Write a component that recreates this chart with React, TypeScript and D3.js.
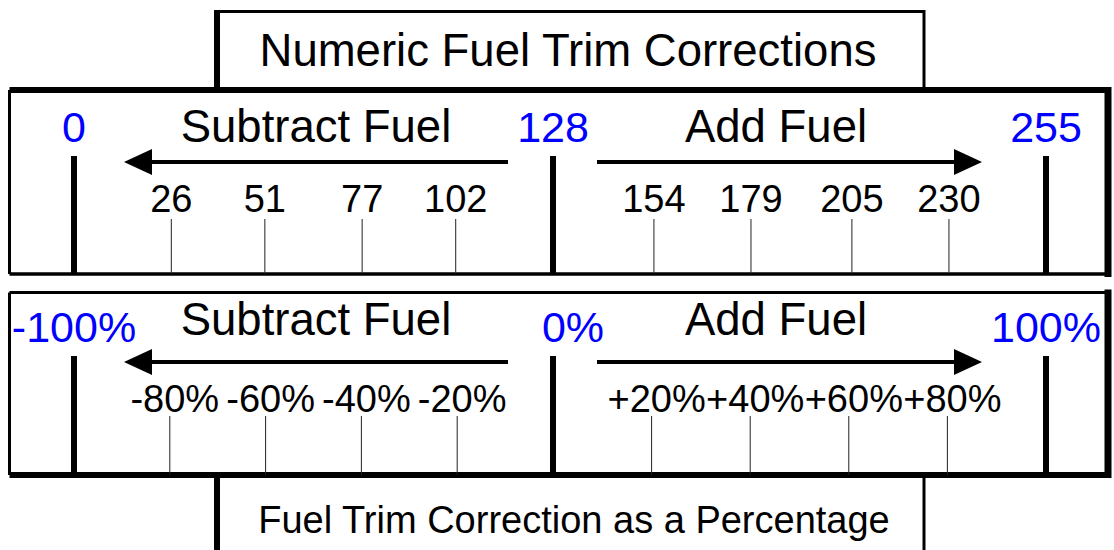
import React from 'react';
import * as d3 from 'd3';

const numMajor = [0, 128, 255];
const numMinor = [26, 51, 77, 102, 154, 179, 205, 230];
const pctMajor = [-100, 0, 100];
const pctMajorLabels = ['-100%', '0%', '100%'];
const pctMinor = [-80, -60, -40, -20, 20, 40, 60, 80];
const pctMinorLabels = ['-80%', '-60%', '-40%', '-20%', '+20%', '+40%', '+60%', '+80%'];
const sideLabels = ['Subtract Fuel', 'Add Fuel'];
const titleText = 'Numeric Fuel Trim Corrections';
const subtitleText = 'Fuel Trim Correction as a Percentage';

const W = 1114;
const H = 550;
const FONT = '"Liberation Sans", Arial, sans-serif';
const BLUE = '#0000ff';

// piecewise scales: each half of the bar is drawn to its own width
const numScale = d3.scaleLinear().domain([0, 128, 255]).range([74, 553, 1046]);
const pctScale = d3.scaleLinear().domain([-100, 0, 100]).range([74, 553, 1046]);

interface PanelProps {
  top: number;
  bottom: number;
  thickTop: boolean;
  scale: d3.ScaleLinear<number, number>;
  major: number[];
  majorLabels: string[];
  minor: number[];
  minorLabels: string[];
  y: { side: number; major: number; arrow: number; majorTop: number; minorLabel: number; minorTop: number };
  zeroDx: number;
  minorDx: number;
}

const Arrow: React.FC<{ x0: number; x1: number; y: number }> = ({ x0, x1, y }) => {
  // x0 = tail, x1 = tip
  const dir = Math.sign(x1 - x0);
  const base = x1 - dir * 28;
  return (
    <g>
      <line x1={x0} x2={base} y1={y} y2={y} stroke="#000" strokeWidth={4} />
      <path d={`M${x1},${y} L${base},${y - 13} L${base},${y + 13} Z`} fill="#000" />
    </g>
  );
};

const Panel: React.FC<PanelProps> = ({ top, bottom, thickTop, scale, major, majorLabels, minor, minorLabels, y, zeroDx, minorDx }) => {
  const left = 9.5;
  const right = 1108;
  return (
    <g>
      {/* frame */}
      <line x1={left} x2={right} y1={top} y2={top} stroke="#000" strokeWidth={thickTop ? 6 : 3} />
      <line x1={left} x2={right} y1={bottom} y2={bottom} stroke="#000" strokeWidth={thickTop ? 3.5 : 6} />
      <line x1={left} x2={left} y1={top} y2={bottom} stroke="#000" strokeWidth={3} />
      <line x1={right} x2={right} y1={top - 3} y2={bottom + 3} stroke="#000" strokeWidth={7} />

      {/* minor ticks */}
      {minor.map((v, i) => (
        <g key={'m' + v}>
          <line x1={scale(v)} x2={scale(v)} y1={y.minorTop} y2={bottom} stroke="#222" strokeWidth={1} />
          <text x={scale(v) + minorDx} y={y.minorLabel} textAnchor="middle" fontSize={38} fontFamily={FONT} fill="#000">
            {minorLabels[i]}
          </text>
        </g>
      ))}

      {/* major ticks */}
      {major.map((v, i) => (
        <g key={'M' + v}>
          <line x1={scale(v)} x2={scale(v)} y1={y.majorTop} y2={bottom} stroke="#000" strokeWidth={6} />
          <text
            x={scale(v) + (i === 1 ? zeroDx : 0)}
            y={y.major}
            textAnchor="middle"
            fontSize={43}
            fontFamily={FONT}
            fill={BLUE}
          >
            {majorLabels[i]}
          </text>
        </g>
      ))}

      {/* direction arrows */}
      <Arrow x0={508} x1={124} y={y.arrow} />
      <Arrow x0={597} x1={982} y={y.arrow} />
      <text x={316} y={y.side} textAnchor="middle" fontSize={45.5} fontFamily={FONT} fill="#000">{sideLabels[0]}</text>
      <text x={776} y={y.side} textAnchor="middle" fontSize={45.5} fontFamily={FONT} fill="#000">{sideLabels[1]}</text>
    </g>
  );
};

const App: React.FC = () => {
  return (
    <svg width={W} height={H} style={{ position: 'absolute', left: 0, top: 0, background: '#fff' }}>
      <rect x={0} y={0} width={W} height={H} fill="#fff" />

      {/* title box */}
      <line x1={217} x2={217} y1={10} y2={90} stroke="#000" strokeWidth={6} />
      <line x1={214} x2={925} y1={11.5} y2={11.5} stroke="#000" strokeWidth={3} />
      <line x1={924} x2={924} y1={10} y2={90} stroke="#000" strokeWidth={3} />
      <text x={568} y={66} textAnchor="middle" fontSize={45.5} fontFamily={FONT} fill="#000">{titleText}</text>

      <Panel
        top={90}
        bottom={274}
        thickTop={true}
        scale={numScale}
        major={numMajor}
        majorLabels={numMajor.map(String)}
        minor={numMinor}
        minorLabels={numMinor.map(String)}
        y={{ side: 142, major: 142, arrow: 162, majorTop: 156, minorLabel: 212, minorTop: 219 }}
        zeroDx={0}
        minorDx={0}
      />
      <Panel
        top={292.5}
        bottom={475}
        thickTop={false}
        scale={pctScale}
        major={pctMajor}
        majorLabels={pctMajorLabels}
        minor={pctMinor}
        minorLabels={pctMinorLabels}
        y={{ side: 335, major: 342, arrow: 362, majorTop: 356, minorLabel: 412, minorTop: 416 }}
        zeroDx={20}
        minorDx={5}
      />

      {/* subtitle box */}
      <line x1={217} x2={217} y1={475} y2={H} stroke="#000" strokeWidth={6} />
      <line x1={924} x2={924} y1={475} y2={H} stroke="#000" strokeWidth={3} />
      <text x={574} y={533} textAnchor="middle" fontSize={38} fontFamily={FONT} fill="#000">{subtitleText}</text>
    </svg>
  );
};

export default App;
